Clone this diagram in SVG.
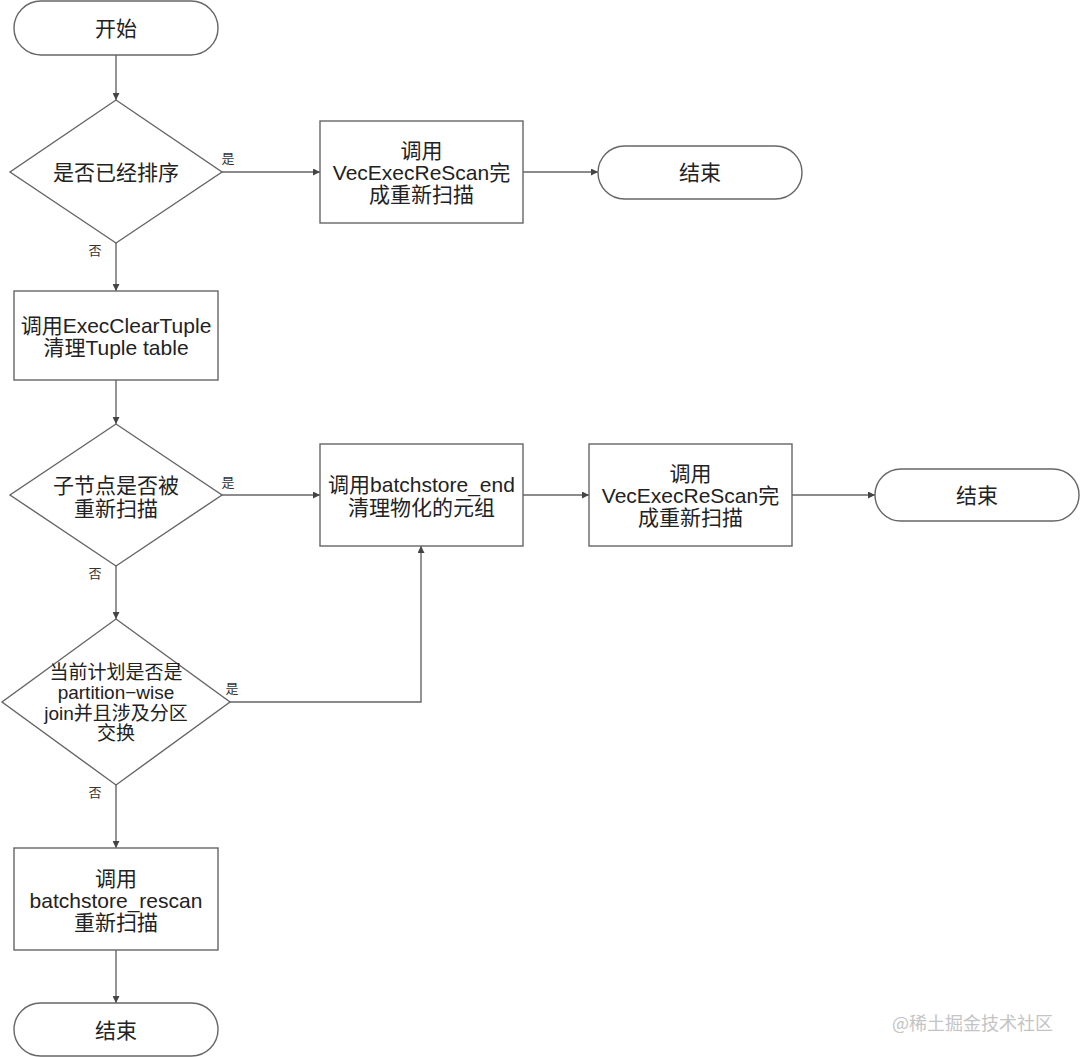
<svg xmlns="http://www.w3.org/2000/svg" width="1080" height="1057" viewBox="0 0 1080 1057">
<defs>
<marker id="arr" viewBox="0 0 10 10" refX="10" refY="5" markerWidth="7" markerHeight="7" markerUnits="userSpaceOnUse" orient="auto">
<path d="M0,0 L10,5 L0,10 z" fill="#444"/>
</marker>
<style>
.shape{fill:#fff;stroke:#666;stroke-width:1.4}
.t{font-family:"Liberation Sans","Noto Sans CJK SC",sans-serif;font-size:21px;fill:#222;text-anchor:middle;dominant-baseline:central}
.t3{font-size:19px}
.lbl{font-family:"Noto Sans CJK SC","Liberation Sans",sans-serif;font-size:13px;fill:#333;text-anchor:middle;dominant-baseline:central}
.edge{fill:none;stroke:#666;stroke-width:1.4;marker-end:url(#arr)}
.wm{font-family:"Noto Sans CJK SC","Liberation Sans",sans-serif;font-size:18px;fill:#c4c4c4;dominant-baseline:central}
</style>
</defs>
<rect width="1080" height="1057" fill="#fff"/>
<g id="connectors">
<path class="edge" d="M116,55 L116,100"/>
<path class="edge" d="M222,172 L320,172"/>
<path class="edge" d="M523,172 L598,172"/>
<path class="edge" d="M116,243 L116,291"/>
<path class="edge" d="M116,380 L116,424"/>
<path class="edge" d="M222,495 L320,495"/>
<path class="edge" d="M523,495 L589,495"/>
<path class="edge" d="M792,495 L875,495"/>
<path class="edge" d="M116,566 L116,619"/>
<path class="edge" d="M230,702 L421,702 L421,546"/>
<path class="edge" d="M116,785 L116,848"/>
<path class="edge" d="M116,950 L116,1003"/>
<text class="lbl" x="228" y="157">是</text>
<text class="lbl" x="95" y="249">否</text>
<text class="lbl" x="228" y="481">是</text>
<text class="lbl" x="95" y="572">否</text>
<text class="lbl" x="232" y="687">是</text>
<text class="lbl" x="95" y="791">否</text>
</g>
<g id="start">
<rect class="shape" x="14" y="1" width="204" height="54" rx="27" ry="27"/>
<text class="t" x="116" y="28">开始</text>
</g>
<g id="d1">
<polygon class="shape" points="116,100 222,172 116,243 10,172"/>
<text class="t" x="116" y="172">是否已经排序</text>
</g>
<g id="b1">
<rect class="shape" x="320" y="121" width="203" height="102"/>
<text class="t" x="421.5" y="150">调用</text>
<text class="t" x="421.5" y="172">VecExecReScan完</text>
<text class="t" x="421.5" y="194">成重新扫描</text>
</g>
<g id="end1">
<rect class="shape" x="598" y="146" width="204" height="53" rx="26.5" ry="26.5"/>
<text class="t" x="700" y="172">结束</text>
</g>
<g id="b2">
<rect class="shape" x="14" y="291" width="204" height="89"/>
<text class="t" x="116" y="325">调用ExecClearTuple</text>
<text class="t" x="116" y="347">清理Tuple table</text>
</g>
<g id="d2">
<polygon class="shape" points="116,424 222,495 116,566 10,495"/>
<text class="t" x="116" y="485">子节点是否被</text>
<text class="t" x="116" y="508">重新扫描</text>
</g>
<g id="b3">
<rect class="shape" x="320" y="444" width="203" height="102"/>
<text class="t" x="421.5" y="484">调用batchstore_end</text>
<text class="t" x="421.5" y="507">清理物化的元组</text>
</g>
<g id="b4">
<rect class="shape" x="589" y="444" width="203" height="102"/>
<text class="t" x="690.5" y="473">调用</text>
<text class="t" x="690.5" y="495">VecExecReScan完</text>
<text class="t" x="690.5" y="517">成重新扫描</text>
</g>
<g id="end2">
<rect class="shape" x="875" y="469" width="204" height="52" rx="26" ry="26"/>
<text class="t" x="977" y="495">结束</text>
</g>
<g id="d3">
<polygon class="shape" points="116,619 230,702 116,785 2,702"/>
<text class="t t3" x="116" y="672">当前计划是否是</text>
<text class="t t3" x="116" y="692">partition−wise</text>
<text class="t t3" x="116" y="713">join并且涉及分区</text>
<text class="t t3" x="116" y="733">交换</text>
</g>
<g id="b5">
<rect class="shape" x="14" y="848" width="204" height="102"/>
<text class="t" x="116" y="878">调用</text>
<text class="t" x="116" y="900">batchstore_rescan</text>
<text class="t" x="116" y="922">重新扫描</text>
</g>
<g id="end3">
<rect class="shape" x="14" y="1003" width="204" height="53" rx="26.5" ry="26.5"/>
<text class="t" x="116" y="1030">结束</text>
</g>
<text class="wm" x="892" y="1022">@稀土掘金技术社区</text>
</svg>
